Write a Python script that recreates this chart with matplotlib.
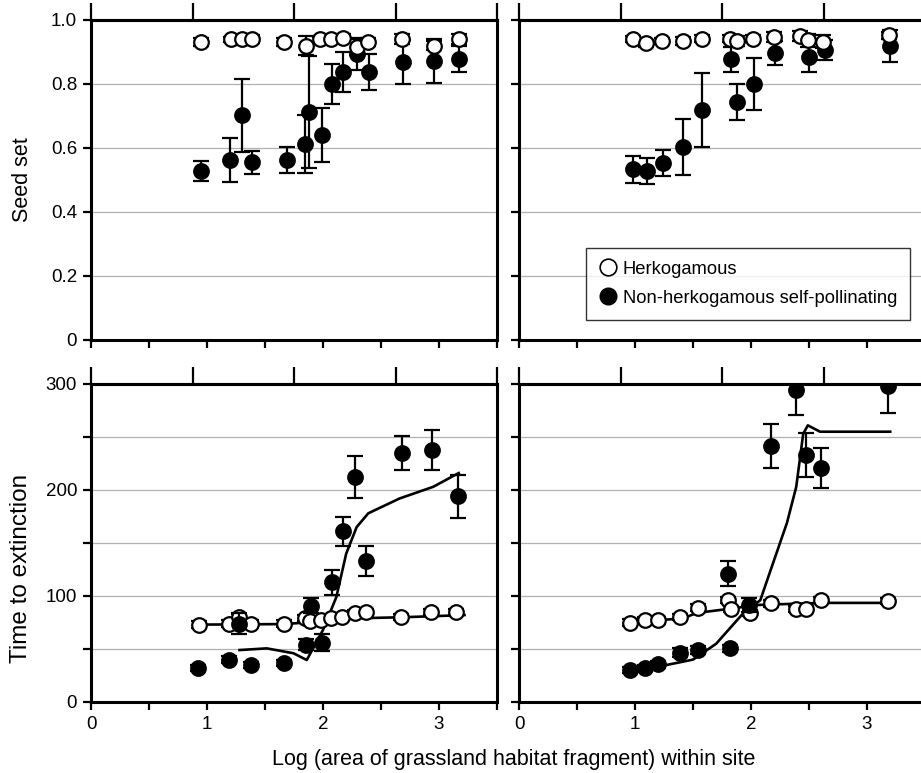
import numpy as np
import matplotlib
matplotlib.use('Agg')
import matplotlib.pyplot as plt
from matplotlib.lines import Line2D

plt.rcParams['font.family'] = ['Liberation Sans', 'DejaVu Sans']

# ---- 上图: seed set ----
tl_open_x = [0.95, 1.21, 1.30, 1.385, 1.66, 1.85, 1.97, 2.07, 2.17, 2.29, 2.39, 2.68, 2.96, 3.17]
tl_open_y = [0.932, 0.94, 0.94, 0.94, 0.932, 0.92, 0.94, 0.94, 0.945, 0.915, 0.932, 0.94, 0.92, 0.94]
tl_open_e = [0.012, 0.008, 0.008, 0.012, 0.012, 0.03, 0.008, 0.008, 0.012, 0.025, 0.012, 0.015, 0.015, 0.015]
tl_fill_x = [0.95, 1.20, 1.30, 1.385, 1.69, 1.845, 1.88, 1.995, 2.075, 2.175, 2.29, 2.40, 2.69, 2.96, 3.17]
tl_fill_y = [0.528, 0.562, 0.702, 0.555, 0.562, 0.612, 0.713, 0.64, 0.80, 0.838, 0.895, 0.838, 0.869, 0.872, 0.879]
tl_fill_e = [0.031, 0.068, 0.115, 0.036, 0.04, 0.09, 0.175, 0.085, 0.062, 0.063, 0.05, 0.056, 0.068, 0.068, 0.04]

tr_open_x = [0.986, 1.095, 1.23, 1.41, 1.575, 1.82, 1.875, 2.02, 2.20, 2.42, 2.49, 2.62, 3.19]
tr_open_y = [0.94, 0.927, 0.935, 0.935, 0.942, 0.942, 0.935, 0.942, 0.947, 0.95, 0.937, 0.932, 0.952]
tr_open_e = [0.01, 0.01, 0.01, 0.012, 0.012, 0.012, 0.015, 0.012, 0.015, 0.015, 0.02, 0.02, 0.012]
tr_fill_x = [0.986, 1.10, 1.24, 1.41, 1.575, 1.83, 1.875, 2.03, 2.21, 2.50, 2.64, 3.20]
tr_fill_y = [0.533, 0.528, 0.553, 0.603, 0.718, 0.877, 0.744, 0.80, 0.896, 0.885, 0.906, 0.92]
tr_fill_e = [0.043, 0.04, 0.042, 0.088, 0.115, 0.04, 0.055, 0.08, 0.037, 0.047, 0.03, 0.05]

# ---- 下图: time to extinction ----
bl_fill_x = [0.925, 1.19, 1.28, 1.375, 1.665, 1.855, 1.895, 1.995, 2.075, 2.17, 2.275, 2.37, 2.68, 2.94, 3.16]
bl_fill_y = [32, 40, 74, 35, 37, 54, 91, 56, 113, 161, 212, 133, 235, 238, 194]
bl_fill_e = [3, 3, 10, 3, 3, 5, 7, 8, 12, 14, 20, 14, 16, 19, 20]
bl_open_x = [0.93, 1.19, 1.28, 1.375, 1.665, 1.845, 1.89, 1.98, 2.07, 2.16, 2.275, 2.37, 2.67, 2.93, 3.15]
bl_open_y = [73, 74, 80, 74, 74, 79, 76, 77, 79, 80, 84, 85, 80, 85, 85]
bl_open_e = [3, 3, 3, 3, 3, 3, 3, 3, 3, 3, 3, 3, 3, 3, 3]
bl_line_open_x = [0.93, 1.67, 1.85, 2.0, 2.3, 2.7, 3.22]
bl_line_open_y = [73, 73.5, 75, 77, 79, 80, 82]
bl_line_fill_x = [1.28, 1.515, 1.745, 1.86, 2.0, 2.115, 2.2, 2.29, 2.39, 2.66, 2.95, 3.17]
bl_line_fill_y = [49, 50.6, 46, 39.6, 68, 99, 140, 165, 178, 192, 203, 216]

br_fill_x = [0.957, 1.086, 1.195, 1.39, 1.545, 1.82, 1.805, 1.985, 2.17, 2.39, 2.47, 2.60, 3.18]
br_fill_y = [30, 32, 35.5, 46.5, 49, 50.6, 121, 91.5, 241.5, 294, 233, 220.5, 298]
br_fill_e = [3, 3, 3, 4, 4, 3, 12, 7, 21, 23, 21, 19, 25]
br_open_x = [0.957, 1.086, 1.195, 1.39, 1.545, 1.805, 1.83, 1.99, 2.17, 2.39, 2.47, 2.60, 3.18]
br_open_y = [75, 77, 77, 80, 89, 96, 88, 84, 93, 88, 88, 96, 95]
br_open_e = [3, 3, 3, 3, 3, 3, 3, 3, 3, 3, 3, 3, 3]
br_line_open_x = [0.957, 1.42, 1.53, 1.82, 2.05, 2.6, 3.2]
br_line_open_y = [75, 79, 84, 88, 91.5, 93.5, 93.5]
br_line_fill_x = [0.957, 1.187, 1.50, 1.70, 1.935, 2.08, 2.19, 2.31, 2.39, 2.45, 2.49, 2.595, 3.2]
br_line_fill_y = [27, 33, 40, 55, 84, 96, 131, 169, 203, 253, 261, 255, 255]

x_ticks = [0, 0.5, 1, 1.5, 2, 2.5, 3, 3.5]
x_ticklabels = ['0', '', '1', '', '2', '', '3', '']
top_ticks = [0, 0.875, 1.75, 2.625, 3.5]
seed_ticks = [0, 0.2, 0.4, 0.6, 0.8, 1.0]
seed_ticklabels = ['0', '0.2', '0.4', '0.6', '0.8', '1.0']
time_ticks = [0, 50, 100, 150, 200, 250, 300]
time_ticklabels = ['0', '', '100', '', '200', '', '300']


def pts(ax, x, y, e, filled, z):
    # 画一组带误差棒的点
    ax.errorbar(x, y, yerr=e, fmt='o', ms=10.5, mfc='black' if filled else 'white',
                mec='black', mew=1.6, ecolor='black', elinewidth=1.6, capsize=5.5,
                capthick=1.6, zorder=z)


def setup(ax, yt, ytl, ylim, show_xlab, show_ylab):
    ax.set_xlim(0, 3.5)
    ax.set_ylim(*ylim)
    ax.set_xticks(x_ticks)
    ax.set_xticklabels(x_ticklabels if show_xlab else [''] * len(x_ticks))
    ax.set_yticks(yt)
    ax.set_yticklabels(ytl if show_ylab else [''] * len(yt))
    for v in yt[1:-1]:
        ax.axhline(v, color='#b0b0b0', lw=0.9, zorder=0)
    for s in ax.spines.values():
        s.set_linewidth(2.2)
    ax.tick_params(direction='out', length=6, width=1.6, labelsize=13.5, pad=4)
    sec = ax.secondary_xaxis('top')
    sec.set_xticks(top_ticks)
    sec.set_xticklabels([])
    sec.tick_params(direction='out', length=12, width=1.6)
    sec.spines['top'].set_linewidth(2.2)


fig = plt.figure(figsize=(9.21, 7.73), dpi=100)
W = 406 / 921
ax_tl = fig.add_axes([91 / 921, 1 - 340 / 773, W, 320 / 773])
ax_tr = fig.add_axes([519 / 921, 1 - 340 / 773, W, 320 / 773])
ax_bl = fig.add_axes([91 / 921, 1 - 702 / 773, W, 318 / 773])
ax_br = fig.add_axes([519 / 921, 1 - 702 / 773, W, 318 / 773])

setup(ax_tl, seed_ticks, seed_ticklabels, (0, 1.0), False, True)
setup(ax_tr, seed_ticks, seed_ticklabels, (0, 1.0), False, False)
setup(ax_bl, time_ticks, time_ticklabels, (0, 300), True, True)
setup(ax_br, time_ticks, time_ticklabels, (0, 300), True, False)

pts(ax_tl, tl_fill_x, tl_fill_y, tl_fill_e, True, 3)
pts(ax_tl, tl_open_x, tl_open_y, tl_open_e, False, 4)
pts(ax_tr, tr_fill_x, tr_fill_y, tr_fill_e, True, 3)
pts(ax_tr, tr_open_x, tr_open_y, tr_open_e, False, 4)

ax_bl.plot(bl_line_open_x, bl_line_open_y, color='black', lw=1.9, zorder=2)
ax_bl.plot(bl_line_fill_x, bl_line_fill_y, color='black', lw=1.9, zorder=2)
pts(ax_bl, bl_open_x, bl_open_y, bl_open_e, False, 3)
pts(ax_bl, bl_fill_x, bl_fill_y, bl_fill_e, True, 4)

ax_br.plot(br_line_open_x, br_line_open_y, color='black', lw=1.9, zorder=2)
ax_br.plot(br_line_fill_x, br_line_fill_y, color='black', lw=1.9, zorder=2)
pts(ax_br, br_open_x, br_open_y, br_open_e, False, 3)
pts(ax_br, br_fill_x, br_fill_y, br_fill_e, True, 4)

# 图例
hs = [Line2D([], [], ls='none', marker='o', ms=12, mfc='white', mec='black', mew=1.2),
      Line2D([], [], ls='none', marker='o', ms=12, mfc='black', mec='black')]
leg = ax_tr.legend(hs, ['Herkogamous', 'Non-herkogamous self-pollinating'],
                   loc='upper left', bbox_to_anchor=(586 / 921, 1 - 248 / 773),
                   bbox_transform=fig.transFigure, fontsize=13.2, frameon=True,
                   fancybox=False, edgecolor='black', handletextpad=0.3,
                   handlelength=1.0, borderpad=0.7, labelspacing=0.65, borderaxespad=0)
leg.get_frame().set_linewidth(1.0)

fig.text(22 / 921, 1 - 180 / 773, 'Seed set', rotation=90, ha='center', va='center', fontsize=15.5)
fig.text(21 / 921, 1 - 568 / 773, 'Time to extinction', rotation=90, ha='center', va='center', fontsize=17.5)
fig.text(514 / 921, 1 - 759 / 773, 'Log (area of grassland habitat fragment) within site',
         ha='center', va='center', fontsize=15.5)

fig.savefig('out.png', dpi=100)
